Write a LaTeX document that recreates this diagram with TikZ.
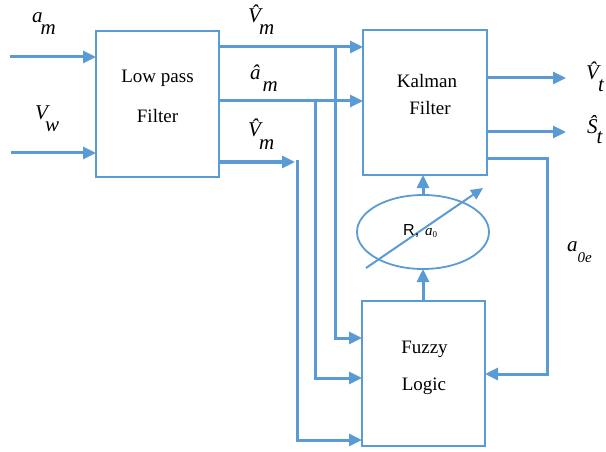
\documentclass[tikz,border=0pt]{standalone}
\usepackage{fontspec}
\setmainfont{Liberation Serif}
\setsansfont{Liberation Sans}
\usetikzlibrary{arrows.meta,shapes.geometric}
\definecolor{lb}{RGB}{91,155,213}
\newcommand{\mylab}[4]{#1\kern#3\raisebox{-#4}{#2}}
\begin{document}
\begin{tikzpicture}[x=1pt,y=-1pt,
 blk/.style={draw=lb,line width=1.8pt,inner sep=0pt,outer sep=0pt},
 conn/.style={draw=lb,line width=3pt},
 arr/.style={conn,-{Triangle[length=13pt,width=12pt]}},
 thinarr/.style={draw=lb,line width=2pt,-{Triangle[length=12pt,width=11pt]}},
 txt/.style={font=\fontsize{19}{23}\selectfont,anchor=base,inner sep=0pt},
 lbl/.style={font=\fontsize{21}{24}\selectfont\itshape,anchor=base west,inner sep=0pt}]
\useasboundingbox (0,0) rectangle (606,452);

% blocks
\node[blk, minimum width=123pt, minimum height=146pt] (lpf) at (157.5,104) {};
\node[blk, minimum width=124pt, minimum height=145pt] (kf) at (425,102.5) {};
\node[blk, minimum width=123pt, minimum height=145pt] (fz) at (423.5,373.5) {};
\node[blk, ellipse, minimum width=132pt, minimum height=74pt] (el) at (423,232) {};

% block texts
\node[txt] (t1) at (157.5,83) {Low pass};
\node[txt] (t2) at (157.5,123) {Filter};
\node[txt] (t3) at (427,88) {Kalman};
\node[txt] (t4) at (430,115) {Filter};
\node[txt] (t5) at (424.5,353) {Fuzzy};
\node[txt] (t6) at (424,390) {Logic};

% coordinates
\coordinate (inA) at (10,57);
\coordinate (inV) at (11,153);
\coordinate (y1) at (0,47);
\coordinate (y2) at (0,101);
\coordinate (j3) at (295,162);
\coordinate (b1) at (335,47);
\coordinate (b2) at (315,101);
\coordinate (b3) at (297,160);
\coordinate (f1) at (0,338);
\coordinate (f2) at (0,378);
\coordinate (f3) at (0,440);
\coordinate (vt) at (566,78);
\coordinate (st) at (566,132);
\coordinate (fb) at (547,159);
\coordinate (fr) at (0,374);
\coordinate (d1) at (366,268);
\coordinate (d2) at (483,188);

% inputs
\draw[arr] (inA) -- (inA -| lpf.west);
\draw[arr] (inV) -- (inV -| lpf.west);

% LPF outputs
\draw[arr] (lpf.east |- y1) -- (kf.west |- y1);
\draw[arr] (lpf.east |- y2) -- (kf.west |- y2);
\draw[arr] (lpf.east |- j3) -- (j3);

% branches to fuzzy
\draw[arr] (b1) |- (fz.west |- f1);
\draw[arr] (b2) |- (fz.west |- f2);
\draw[arr] (b3) |- (fz.west |- f3);

% Kalman outputs
\draw[arr] (kf.east |- vt) -- (vt);
\draw[arr] (kf.east |- st) -- (st);
\draw[arr] (kf.east |- fb) -- (fb) |- (fz.east |- fr);

% ellipse links
\draw[arr] (el.north) -- (el.north |- kf.south);
\draw[arr] (el.south |- fz.north) -- (el.south);
\draw[thinarr] (d1) -- (d2);

% labels
\node[lbl] (la) at (32,23) {\mylab{a}{m}{-2pt}{12pt}};
\node[lbl] (lv) at (35,120) {\mylab{V}{w}{-3pt}{12pt}};
\node[lbl] (l1) at (248,23) {\mylab{\^{V}}{m}{-2pt}{12pt}};
\node[lbl] (l2) at (250,80) {\mylab{\^{a}}{m}{2pt}{12pt}};
\node[lbl] (l3) at (248,137) {\mylab{\^{V}}{m}{-2pt}{13pt}};
\node[lbl] (l4) at (586,80) {\mylab{\^{V}}{t}{-1pt}{12pt}};
\node[lbl] (l5) at (587,133) {\mylab{\^{S}}{t}{-1pt}{10pt}};
\node[lbl] (l6) at (567,251) {\mylab{a}{{\fontsize{15}{15}\selectfont 0e}}{0pt}{11pt}};
\node[anchor=base west,inner sep=0pt] (lr) at (403,235) {{\sffamily\fontsize{16}{18}\selectfont R,}\kern6pt{\fontsize{15}{15}\selectfont\itshape a}\raisebox{-2.5pt}{\fontsize{9}{9}\selectfont 0}};
\end{tikzpicture}
\end{document}
